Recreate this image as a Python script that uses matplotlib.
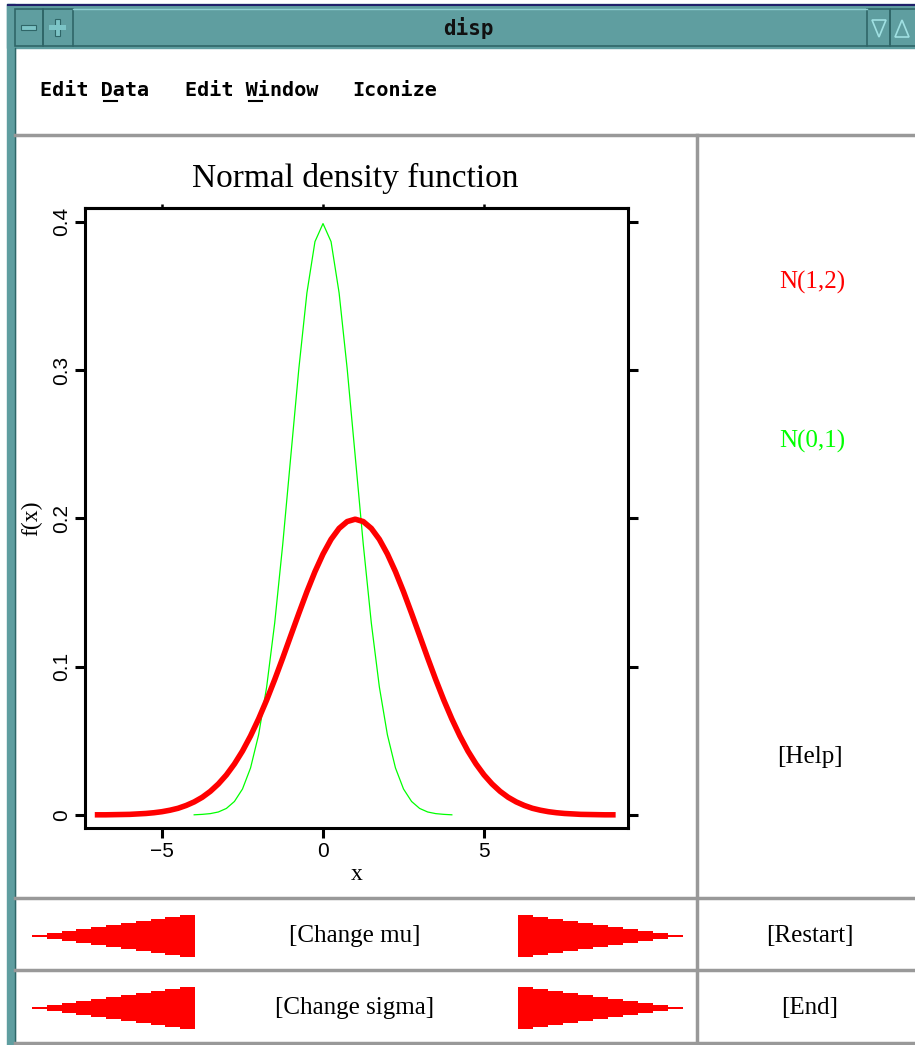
import matplotlib
matplotlib.use('Agg')
import matplotlib.pyplot as plt
from matplotlib.patches import Rectangle, Polygon

# N(1,2) density
x_red = [-7.0, -6.75, -6.5, -6.25, -6.0, -5.75, -5.5, -5.25, -5.0, -4.75,
         -4.5, -4.25, -4.0, -3.75, -3.5, -3.25, -3.0, -2.75, -2.5, -2.25,
         -2.0, -1.75, -1.5, -1.25, -1.0, -0.75, -0.5, -0.25, 0.0, 0.25,
         0.5, 0.75, 1.0, 1.25, 1.5, 1.75, 2.0, 2.25, 2.5, 2.75, 3.0, 3.25,
         3.5, 3.75, 4.0, 4.25, 4.5, 4.75, 5.0, 5.25, 5.5, 5.75, 6.0, 6.25,
         6.5, 6.75, 7.0, 7.25, 7.5, 7.75, 8.0, 8.25, 8.5, 8.75, 9.0]
y_red = [0.0001, 0.0001, 0.0002, 0.0003, 0.0004, 0.0007, 0.0010, 0.0015,
         0.0022, 0.0032, 0.0045, 0.0064, 0.0088, 0.0119, 0.0159, 0.0209,
         0.0270, 0.0344, 0.0431, 0.0533, 0.0648, 0.0775, 0.0913, 0.1059,
         0.1210, 0.1360, 0.1506, 0.1641, 0.1760, 0.1859, 0.1933, 0.1979,
         0.1995,
         0.1979, 0.1933, 0.1859, 0.1760, 0.1641, 0.1506, 0.1360, 0.1210,
         0.1059, 0.0913, 0.0775, 0.0648, 0.0533, 0.0431, 0.0344, 0.0270,
         0.0209, 0.0159, 0.0119, 0.0088, 0.0064, 0.0045, 0.0032, 0.0022,
         0.0015, 0.0010, 0.0007, 0.0004, 0.0003, 0.0002, 0.0001, 0.0001]

# N(0,1) density
x_green = [-4.0, -3.75, -3.5, -3.25, -3.0, -2.75, -2.5, -2.25, -2.0, -1.75,
           -1.5, -1.25, -1.0, -0.75, -0.5, -0.25, 0.0, 0.25, 0.5, 0.75, 1.0,
           1.25, 1.5, 1.75, 2.0, 2.25, 2.5, 2.75, 3.0, 3.25, 3.5, 3.75, 4.0]
y_green = [0.0001, 0.0004, 0.0009, 0.0020, 0.0044, 0.0091, 0.0175, 0.0317,
           0.0540, 0.0863, 0.1295, 0.1826, 0.2420, 0.3011, 0.3521, 0.3867,
           0.3989, 0.3867, 0.3521, 0.3011, 0.2420, 0.1826, 0.1295, 0.0863,
           0.0540, 0.0317, 0.0175, 0.0091, 0.0044, 0.0020, 0.0009, 0.0004, 0.0001]

xticks = [-5, 0, 5]
xticklabels = ['\u22125', '0', '5']
yticks = [0, 0.1, 0.2, 0.3, 0.4]
yticklabels = ['0', '0.1', '0.2', '0.3', '0.4']

legend_labels = ['N(1,2)', 'N(0,1)']
legend_colors = ['#ff0000', '#00ff00']
menu_items = ['Edit Data', 'Edit Window', 'Iconize']
menu_underline = [5, 5, None]   # index of the underlined letter
button_rows = [('[Change mu]', '[Restart]'), ('[Change sigma]', '[End]')]

W, H = 915, 1045
teal = '#5f9ea0'
dark_teal = '#2f6668'
gray = '#999999'
serif = 'Liberation Serif'
menu_x = [40, 185, 352]
char_w = 12.8

fig = plt.figure(figsize=(W / 100, H / 100), dpi=100)
fig.patch.set_facecolor('white')

# window frame in pixel coordinates
bg = fig.add_axes([0, 0, 1, 1])
bg.set_xlim(0, W)
bg.set_ylim(H, 0)
bg.axis('off')

bg.add_patch(Rectangle((7, 4), W, 44, color=teal, zorder=1))
bg.plot([8, W], [5, 5], color='#20206a', lw=1.5, zorder=2)
bg.add_patch(Rectangle((7, 4), 8, H, color=teal, zorder=1))
bg.plot([15, 15], [48, H], color=dark_teal, lw=1, zorder=2)
bg.add_patch(Rectangle((15, H - 2), W, 2, color='#7fc8cc', zorder=1))
# title bar buttons
for x0, x1 in [(15, 43), (43, 73), (867, 890), (890, W + 5)]:
    bg.add_patch(Rectangle((x0, 9), x1 - x0, 37, fill=False, ec=dark_teal, lw=1.2, zorder=3))
bg.plot([73, 867], [9, 9], color='#8fd0d2', lw=1, zorder=3)
bg.plot([73, 867], [46, 46], color=dark_teal, lw=1.2, zorder=3)
bg.add_patch(Rectangle((21, 25), 15, 5, fc='#7cc4c6', ec=dark_teal, lw=0.8, zorder=4))
bg.add_patch(Rectangle((55, 19), 5, 17, fc='#7cc4c6', ec=dark_teal, lw=0.8, zorder=4))
bg.add_patch(Rectangle((49, 25), 17, 5, fc='#7cc4c6', ec='none', zorder=5))
bg.add_patch(Polygon([(872, 20), (886, 20), (879, 37)], closed=True, fill=False, ec='#9fe0e2', lw=1.2, zorder=4))
bg.add_patch(Polygon([(895, 37), (909, 37), (902, 20)], closed=True, fill=False, ec='#9fe0e2', lw=1.2, zorder=4))
bg.text(468, 28, 'disp', ha='center', va='center', fontsize=15, fontweight='bold',
        family='DejaVu Sans Mono', color='#111111', zorder=5)

# menu bar
for item, mx, u in zip(menu_items, menu_x, menu_underline):
    bg.text(mx, 90, item, ha='left', va='center', fontsize=14.5, fontweight='bold',
            family='DejaVu Sans Mono', color='black')
    if u is not None:
        bg.plot([mx + u * char_w, mx + (u + 1) * char_w], [101, 101], color='black', lw=1.5)

# panel dividers
bg.plot([15, W], [135, 135], color=gray, lw=2.5)
bg.plot([697, 697], [135, 1043], color=gray, lw=2.5)
bg.plot([15, W], [898, 898], color=gray, lw=2.5)
bg.plot([15, W], [970, 970], color=gray, lw=2.5)
bg.plot([15, W], [1043, 1043], color=gray, lw=2.5)

# legend texts in right panel
bg.text(812, 282, legend_labels[0], ha='center', va='center', fontsize=18,
        family=serif, color=legend_colors[0])
bg.text(812, 441, legend_labels[1], ha='center', va='center', fontsize=18,
        family=serif, color=legend_colors[1])
bg.text(810, 757, '[Help]', ha='center', va='center', fontsize=18, family=serif)


def stepped_arrow(tip, base, yc, half, n=11):
    pts_top, pts_bot = [], []
    step = (base - tip) / n
    for i in range(n):
        xa = tip + i * step
        xb = tip + (i + 1) * step
        h = max(half * (i + 0.5) / n, 1.2)
        pts_top += [(xa, yc - h), (xb, yc - h)]
        pts_bot += [(xa, yc + h), (xb, yc + h)]
    return Polygon(pts_top + pts_bot[::-1], closed=True, color='#ff0000', lw=0)


for (label, side), yc in zip(button_rows, [936, 1008]):
    bg.add_patch(stepped_arrow(32, 195, yc, 22))
    bg.add_patch(stepped_arrow(683, 518, yc, 22))
    bg.text(355, yc, label, ha='center', va='center', fontsize=18, family=serif)
    bg.text(810, yc, side, ha='center', va='center', fontsize=18, family=serif)

# plot title
bg.text(355, 178, 'Normal density function', ha='center', va='center',
        fontsize=24, family=serif)

# the plot itself
L, R, T, B = 85, 628, 208, 828
ax = fig.add_axes([L / W, 1 - B / H, (R - L) / W, (B - T) / H])
ax.plot(x_red, y_red, color='#ff0000', lw=4, zorder=3)
ax.plot(x_green, y_green, color='#00ff00', lw=0.9, zorder=2)
ax.set_xlim(-7.39, 9.47)
ax.set_ylim(-0.0088, 0.4094)
ax.set_xticks(xticks)
ax.set_xticklabels(xticklabels, fontsize=15, family='Liberation Sans')
ax.set_yticks(yticks)
ax.set_yticklabels(yticklabels, fontsize=15, family='Liberation Sans',
                   rotation=90, va='center')
for s in ax.spines.values():
    s.set_linewidth(2.2)
ax.tick_params(direction='out', length=7, width=2.2, right=True, pad=3)
top = ax.secondary_xaxis('top')
top.set_xticks(xticks)
top.set_xticklabels([])
top.tick_params(direction='out', length=3, width=1.8)
top.spines['top'].set_linewidth(2.2)
ax.set_xlabel('x', fontsize=17, family=serif, labelpad=2)
ax.set_ylabel('f(x)', fontsize=17, family=serif, labelpad=7)

fig.savefig('out.png', dpi=100, facecolor='white')
